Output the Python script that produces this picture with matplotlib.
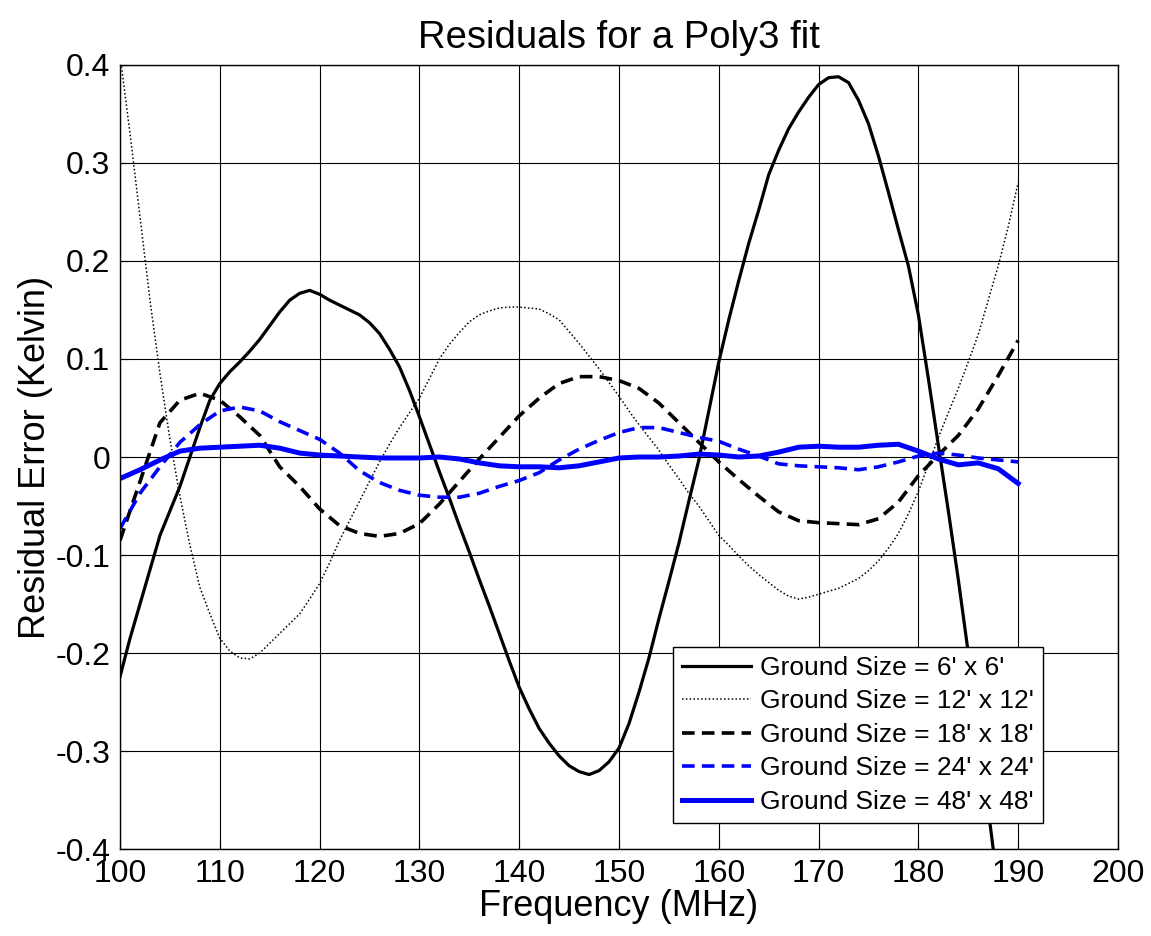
import numpy as np
import matplotlib
matplotlib.use('Agg')
import matplotlib.pyplot as plt

plt.rcParams['font.family'] = ['Liberation Sans', 'DejaVu Sans']

# the two fast-moving curves were read every 1 MHz, the flatter ones every 2 MHz
freq_fine = np.arange(100, 191, 1)
freq = np.arange(100, 191, 2)

ground_6 = [-0.224, -0.185, -0.15, -0.115, -0.08, -0.055, -0.03, 0.0, 0.03, 0.058,
            0.075, 0.087, 0.097, 0.108, 0.12, 0.134, 0.148, 0.16, 0.167, 0.170,
            0.166, 0.16, 0.155, 0.15, 0.145, 0.137, 0.126, 0.11, 0.092, 0.068,
            0.041, 0.013, -0.015, -0.042, -0.07, -0.097, -0.125, -0.152, -0.18, -0.208,
            -0.235, -0.257, -0.277, -0.292, -0.305, -0.315, -0.321, -0.324, -0.32, -0.311,
            -0.297, -0.272, -0.24, -0.205, -0.165, -0.127, -0.088, -0.045, -0.003, 0.047,
            0.097, 0.14, 0.18, 0.218, 0.252, 0.288, 0.313, 0.335, 0.352, 0.367,
            0.38, 0.387, 0.388, 0.382, 0.364, 0.34, 0.307, 0.27, 0.232, 0.195,
            0.145, 0.08, 0.012, -0.055, -0.125, -0.2, -0.28, -0.36, -0.44, -0.55,
            -0.66]
ground_12 = [0.41, 0.33, 0.245, 0.16, 0.085, 0.018, -0.04, -0.09, -0.133, -0.16,
             -0.185, -0.198, -0.205, -0.206, -0.2, -0.19, -0.18, -0.17, -0.16, -0.145,
             -0.129, -0.108, -0.085, -0.065, -0.045, -0.025, -0.005, 0.013, 0.03, 0.045,
             0.06, 0.08, 0.10, 0.115, 0.127, 0.138, 0.145, 0.149, 0.152, 0.153,
             0.153, 0.152, 0.151, 0.146, 0.14, 0.128, 0.116, 0.103, 0.09, 0.076,
             0.062, 0.047, 0.033, 0.02, 0.007, -0.008, -0.022, -0.037, -0.05, -0.065,
             -0.08, -0.09, -0.101, -0.111, -0.12, -0.128, -0.136, -0.142, -0.145, -0.143,
             -0.14, -0.137, -0.134, -0.129, -0.124, -0.116, -0.106, -0.093, -0.078, -0.058,
             -0.035, -0.008, 0.02, 0.045, 0.07, 0.097, 0.125, 0.16, 0.195, 0.235,
             0.28]
ground_18 = [-0.085, -0.025, 0.035, 0.058, 0.065, 0.058, 0.041, 0.022, -0.01, -0.03,
             -0.053, -0.07, -0.078, -0.081, -0.078, -0.068, -0.048, -0.025, -0.002, 0.02,
             0.042, 0.06, 0.075, 0.082, 0.082, 0.078, 0.07, 0.055, 0.035, 0.015,
             -0.005, -0.023, -0.04, -0.056, -0.065, -0.067, -0.068, -0.069, -0.063, -0.046,
             -0.019, 0.002, 0.022, 0.049, 0.083, 0.119]
ground_24 = [-0.073, -0.037, -0.01, 0.015, 0.033, 0.047, 0.051, 0.047, 0.036, 0.027,
             0.018, 0.004, -0.014, -0.026, -0.034, -0.039, -0.041, -0.041, -0.037, -0.03,
             -0.024, -0.016, -0.003, 0.008, 0.017, 0.025, 0.03, 0.03, 0.025, 0.02,
             0.016, 0.008, 0.001, -0.007, -0.009, -0.01, -0.011, -0.013, -0.01, -0.005,
             0.001, 0.004, 0.002, -0.001, -0.003, -0.005]
ground_48 = [-0.022, -0.013, -0.003, 0.006, 0.009, 0.01, 0.011, 0.012, 0.009, 0.004,
             0.002, 0.001, 0.0, -0.001, -0.001, -0.001, 0.0, -0.002, -0.006, -0.009,
             -0.01, -0.01, -0.011, -0.009, -0.005, -0.001, 0.0, 0.0, 0.001, 0.003,
             0.002, 0.0, 0.001, 0.005, 0.01, 0.011, 0.01, 0.01, 0.012, 0.013,
             0.006, -0.002, -0.008, -0.006, -0.012, -0.027]

labels = ["Ground Size = 6' x 6'", "Ground Size = 12' x 12'", "Ground Size = 18' x 18'",
          "Ground Size = 24' x 24'", "Ground Size = 48' x 48'"]

fig = plt.figure(figsize=(11.51, 9.36), dpi=100)
ax = fig.add_axes([0.1043, 0.0929, 0.8670, 0.8377])

ax.plot(freq_fine, ground_6, color='black', lw=2.3, label=labels[0])
ax.plot(freq_fine, ground_12, color='black', lw=1.1, ls=(0, (1, 1.5)), label=labels[1])
ax.plot(freq, ground_18, color='black', lw=2.6, ls=(0, (3.5, 2)), label=labels[2])
ax.plot(freq, ground_24, color='blue', lw=2.6, ls=(0, (3.5, 2)), label=labels[3])
ax.plot(freq, ground_48, color='blue', lw=3.6, label=labels[4])

ax.set_xlim(100, 200)
ax.set_ylim(-0.4, 0.4)
ax.set_xticks(np.arange(100, 201, 10))
ax.set_yticks(np.arange(-0.4, 0.41, 0.1))
ax.set_yticklabels(['-0.4', '-0.3', '-0.2', '-0.1', '0', '0.1', '0.2', '0.3', '0.4'])
ax.grid(True, color='black', lw=0.8)
ax.set_axisbelow(True)
ax.tick_params(direction='in', length=6, labelsize=23, pad=7)
for s in ax.spines.values():
    s.set_linewidth(1.0)

ax.set_title('Residuals for a Poly3 fit', fontsize=27.5, pad=12)
ax.set_xlabel('Frequency (MHz)', fontsize=26, labelpad=0)
ax.set_ylabel('Residual Error (Kelvin)', fontsize=26, labelpad=2)

leg = ax.legend(loc='lower right', bbox_to_anchor=(0.925, 0.033), fontsize=19,
                fancybox=False, framealpha=1, edgecolor='black', handlelength=2.6,
                labelspacing=0.36, borderpad=0.35, handletextpad=0.35,
                borderaxespad=0)
leg.get_frame().set_linewidth(1.0)

fig.savefig('out.png', dpi=100)
